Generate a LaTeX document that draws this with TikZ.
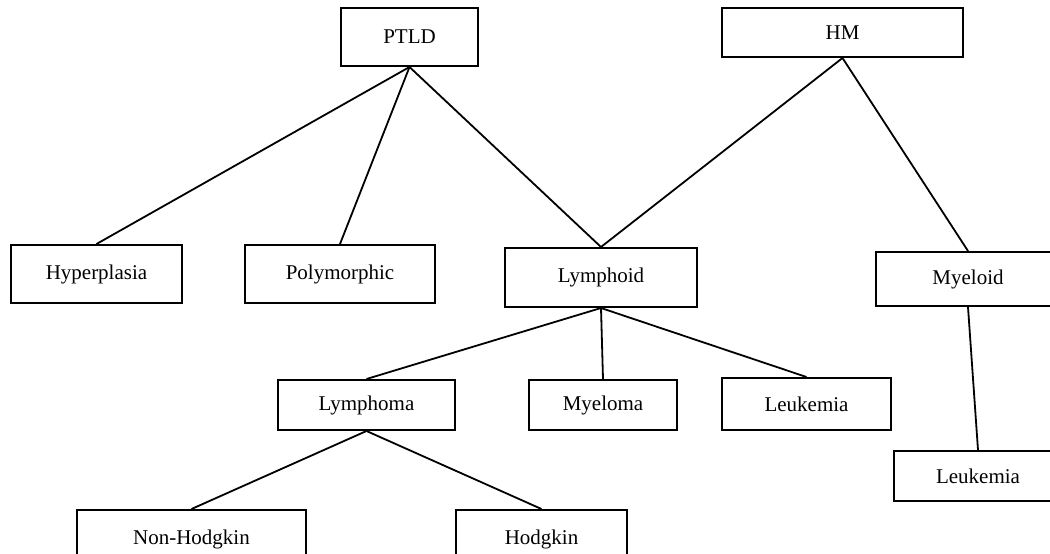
\documentclass[tikz,border=0pt]{standalone}
\usepackage{fontspec}
\setmainfont{Liberation Serif}
\begin{document}
\begin{tikzpicture}[x=1pt,y=-1pt,
  box/.style={draw=black, line width=2pt, rectangle, inner sep=0pt, fill=white,
    font=\fontsize{21}{25}\selectfont},
  link/.style={draw=black, line width=1.8pt}]
\useasboundingbox (0,0) rectangle (1050,554);
\clip (0,0) rectangle (1050,554);
\fill[white] (0,0) rectangle (1050,554);
% nodes
\node[box, minimum width=137pt, minimum height=58pt] (ptld) at (409.5,37) {PTLD};
\node[box, minimum width=241pt, minimum height=49pt] (hm) at (842.5,32.5) {HM};
\node[box, minimum width=171pt, minimum height=58pt] (hyper) at (96.5,274) {Hyperplasia};
\node[box, minimum width=190pt, minimum height=58pt] (poly) at (340,274) {Polymorphic};
\node[box, minimum width=192pt, minimum height=59pt] (lymphoid) at (601,277.5) {Lymphoid};
\node[box, minimum width=184pt, minimum height=54pt] (myeloid) at (968,279) {Myeloid};
\node[box, minimum width=177pt, minimum height=50pt] (lymphoma) at (366.5,405) {Lymphoma};
\node[box, minimum width=148pt, minimum height=50pt] (myeloma) at (603,405) {Myeloma};
\node[box, minimum width=169pt, minimum height=52pt] (leukA) at (806.5,404) {Leukemia};
\node[box, minimum width=168pt, minimum height=50pt] (leukB) at (978,476) {Leukemia};
\node[box, minimum width=229pt, minimum height=58pt] (nonhod) at (191.5,539) {Non-Hodgkin};
\node[box, minimum width=171pt, minimum height=58pt] (hod) at (541.5,539) {Hodgkin};
% connectors
\draw[link] (ptld.south) -- (hyper.north);
\draw[link] (ptld.south) -- (poly.north);
\draw[link] (ptld.south) -- (lymphoid.north);
\draw[link] (hm.south) -- (lymphoid.north);
\draw[link] (hm.south) -- (myeloid.north);
\draw[link] (lymphoid.south) -- (lymphoma.north);
\draw[link] (lymphoid.south) -- (myeloma.north);
\draw[link] (lymphoid.south) -- (leukA.north);
\draw[link] (myeloid.south) -- (leukB.north);
\draw[link] (lymphoma.south) -- (nonhod.north);
\draw[link] (lymphoma.south) -- (hod.north);
\end{tikzpicture}
\end{document}
